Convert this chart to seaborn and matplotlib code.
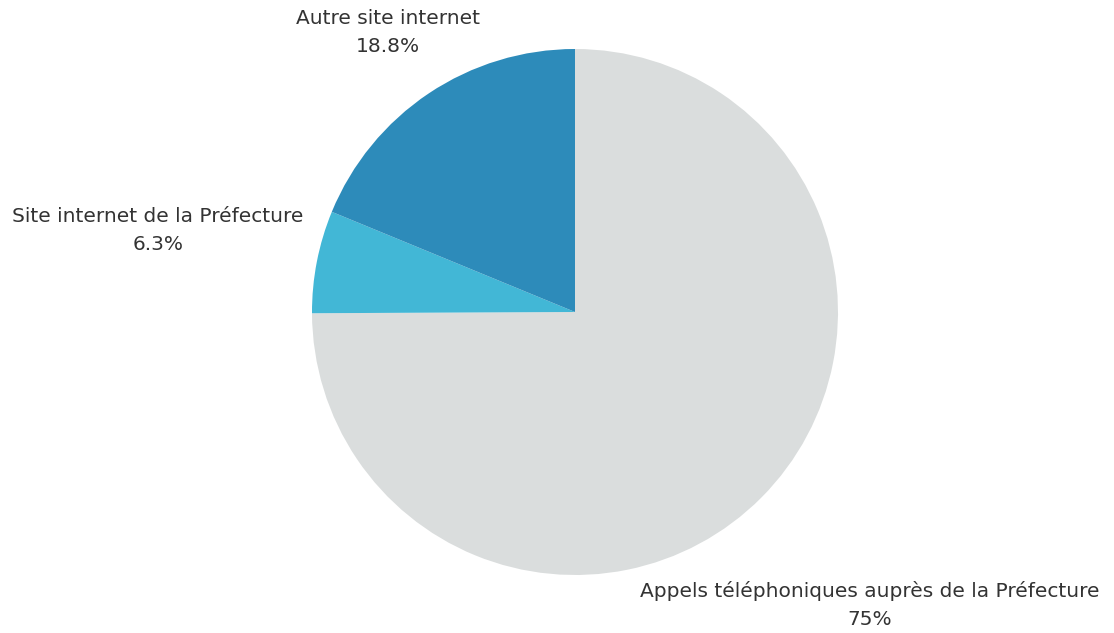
import numpy as np
import matplotlib
matplotlib.use("Agg")
import matplotlib.pyplot as plt
import seaborn as sns

categories = ["Appels téléphoniques auprès de la Préfecture",
              "Site internet de la Préfecture",
              "Autre site internet"]
values = [75.0, 6.3, 18.8]
value_labels = ["75%", "6.3%", "18.8%"]
colors = ["#dadddd", "#42b7d6", "#2d8bba"]
# radial distance of each outside label, in pie radii
label_dist = [1.58, 1.615, 1.28]

sns.set_theme(style="white")
plt.rcParams["font.family"] = ["DejaVu Sans"]

fig = plt.figure(figsize=(11.14, 6.33), dpi=100)
W, H = 1114, 633
cx, cy, r = 575, 312, 263
ax = fig.add_axes([(cx - r) / W, (H - cy - r) / H, 2 * r / W, 2 * r / H])

wedges, _ = ax.pie(values, colors=colors, startangle=90, counterclock=False,
                   radius=1.0, wedgeprops=dict(linewidth=0))
ax.set_xlim(-1, 1)
ax.set_ylim(-1, 1)
ax.set_aspect("equal")
ax.axis("off")

for w, cat, vl, d in zip(wedges, categories, value_labels, label_dist):
    mid = np.deg2rad((w.theta1 + w.theta2) / 2)
    x, y = d * np.cos(mid), d * np.sin(mid)
    ax.text(x, y, f"{cat}\n{vl}", ha="center", va="center", fontsize=14.5,
            color="#333333", linespacing=1.6, clip_on=False)

fig.savefig("out.png", dpi=100, facecolor="white")
